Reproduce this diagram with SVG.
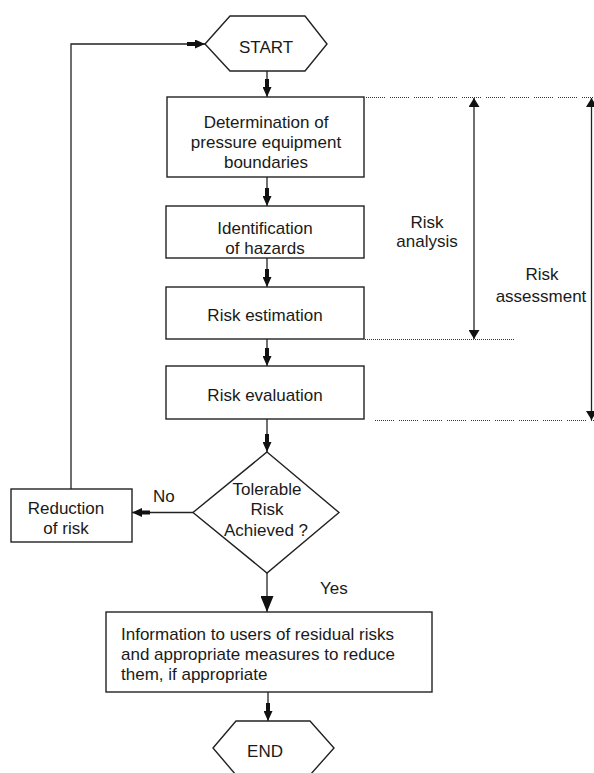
<svg xmlns="http://www.w3.org/2000/svg" width="594" height="773" viewBox="0 0 594 773">
<style>
  .box{fill:#fff;stroke:#222;stroke-width:1.4}
  .ln{fill:none;stroke:#222;stroke-width:1.3}
  .dot{fill:none;stroke:#333;stroke-width:1;stroke-dasharray:1 1 1 1 1 1 1 1 1 1 1 1 1 1 1 1 1 1 1 5}
  .dot2{fill:none;stroke:#333;stroke-width:1;stroke-dasharray:1 1}
  text{font-family:"Liberation Sans",Arial,sans-serif;font-size:17px;fill:#1a1a1a}
  .c{text-anchor:middle}
</style>
<defs>
  <marker id="ah" markerUnits="userSpaceOnUse" viewBox="0 0 18 9" refX="18" refY="4.5" markerWidth="18" markerHeight="9" orient="auto">
    <path d="M0,2.5 L8,2.5 L8,0 L18,4.5 L8,9 L8,6.5 L0,6.5 z" fill="#111"/>
  </marker>
  <marker id="tri" markerUnits="userSpaceOnUse" viewBox="0 0 16 13" refX="16" refY="6.5" markerWidth="16" markerHeight="13" orient="auto">
    <path d="M0,0 L16,6.5 L0,13 z" fill="#111"/>
  </marker>
  <marker id="sm" markerUnits="userSpaceOnUse" viewBox="0 0 9 11" refX="9" refY="5.5" markerWidth="9" markerHeight="11" orient="auto-start-reverse">
    <path d="M0,0 L9,5.5 L0,11 z" fill="#111"/>
  </marker>
</defs>

<g id="connectors">
  <line class="ln" x1="267" y1="71" x2="267" y2="97" marker-end="url(#ah)"/>
  <line class="ln" x1="267" y1="177" x2="267" y2="206" marker-end="url(#ah)"/>
  <line class="ln" x1="267" y1="258" x2="267" y2="287" marker-end="url(#ah)"/>
  <line class="ln" x1="267" y1="339" x2="267" y2="366" marker-end="url(#ah)"/>
  <line class="ln" x1="267" y1="419" x2="267" y2="452" marker-end="url(#ah)"/>
  <line class="ln" x1="193" y1="512.5" x2="132" y2="512.5" marker-end="url(#ah)"/>
  <polyline class="ln" points="71,489 71,44 205,44" marker-end="url(#ah)"/>
  <line class="ln" x1="267" y1="573" x2="267" y2="612" marker-end="url(#tri)"/>
  <line class="ln" x1="268" y1="692" x2="268" y2="721" marker-end="url(#ah)"/>
  <line class="dot" x1="366" y1="97.5" x2="594" y2="97.5"/>
  <line class="dot2" x1="365" y1="339.5" x2="514" y2="339.5"/>
  <line class="dot" x1="375" y1="420.5" x2="594" y2="420.5"/>
  <line class="ln" x1="474" y1="98" x2="474" y2="339" marker-start="url(#sm)" marker-end="url(#sm)"/>
  <line class="ln" x1="591.5" y1="98" x2="591.5" y2="420" marker-start="url(#sm)" marker-end="url(#sm)"/>
</g>

<g id="start">
  <polygon class="box" points="205,44 230,16 305,16 327,44 305,71 230,71"/>
  <text class="c" x="266" y="53">START</text>
</g>

<g id="determination">
  <rect class="box" x="167" y="97" width="197" height="80"/>
  <text class="c" x="266" y="128">Determination of</text>
  <text class="c" x="266" y="148">pressure equipment</text>
  <text class="c" x="266" y="168">boundaries</text>
</g>

<g id="identification">
  <rect class="box" x="166" y="206" width="198" height="52"/>
  <text class="c" x="265" y="234">Identification</text>
  <text class="c" x="265" y="254">of hazards</text>
</g>

<g id="estimation">
  <rect class="box" x="166" y="287" width="198" height="52"/>
  <text class="c" x="265" y="321">Risk estimation</text>
</g>

<g id="evaluation">
  <rect class="box" x="166" y="366" width="198" height="53"/>
  <text class="c" x="265" y="401">Risk evaluation</text>
</g>

<g id="decision">
  <polygon class="box" points="267,452 339,512.5 267,573 193,512.5"/>
  <text class="c" x="267" y="495">Tolerable</text>
  <text class="c" x="267" y="515">Risk</text>
  <text class="c" x="266" y="536">Achieved ?</text>
</g>

<g id="reduction">
  <rect class="box" x="11" y="489" width="121" height="53"/>
  <text class="c" x="66" y="514">Reduction</text>
  <text class="c" x="66" y="534">of risk</text>
</g>

<g id="information">
  <rect class="box" x="106" y="612" width="326" height="80"/>
  <text x="121" y="640">Information to users of residual risks</text>
  <text x="121" y="660">and appropriate measures to reduce</text>
  <text x="121" y="680">them, if appropriate</text>
</g>

<g id="end">
  <polygon class="box" points="213,748 236,721 310,721 334,748 310,775 236,775"/>
  <text class="c" x="265" y="757">END</text>
</g>

<g id="labels">
  <text x="153" y="502">No</text>
  <text x="320" y="594">Yes</text>
  <text class="c" x="427" y="228">Risk</text>
  <text class="c" x="427" y="247">analysis</text>
  <text class="c" x="542" y="280">Risk</text>
  <text class="c" x="541" y="302">assessment</text>
</g>
</svg>
